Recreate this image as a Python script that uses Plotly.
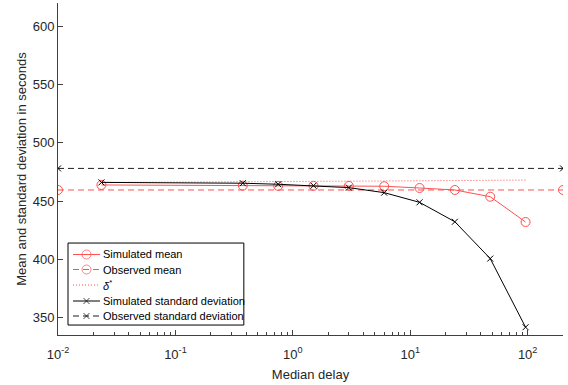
import plotly.graph_objects as go

delay = [0.0234375, 0.375, 0.75, 1.5, 3, 6, 12, 24, 48, 96]
sim_mean = [463.8, 463.2, 463.0, 463.0, 463.0, 462.7, 461.2, 459.5, 453.7, 432.0]
sim_std = [466.0, 465.3, 464.4, 463.2, 461.5, 457.2, 448.9, 432.2, 400.6, 341.7]
delta_star = [466.0, 466.3, 466.5, 466.7, 467.0, 467.2, 467.4, 467.6, 467.8, 468.0]
obs_x = [0.01, 200]
obs_mean = [459.5, 459.5]
obs_std = [478.0, 478.0]
x_ticks = [0.01, 0.1, 1, 10, 100]
x_ticktext = ["10<sup>-2</sup>", "10<sup>-1</sup>", "10<sup>0</sup>", "10<sup>1</sup>", "10<sup>2</sup>"]
y_ticks = [350, 400, 450, 500, 550, 600]

RED = "rgb(255,80,80)"
DASH = "6px,4px"
circ = dict(symbol="circle-open", size=9, color=RED, line=dict(width=1, color=RED))
xmk = dict(symbol="x-thin", size=6, color="black", line=dict(width=1, color="black"))

series = [
    dict(name="Simulated mean", x=delay, y=sim_mean, line=dict(color=RED, width=1), marker=circ),
    dict(name="Observed mean", x=obs_x, y=obs_mean, line=dict(color=RED, width=1, dash=DASH), marker=circ),
    dict(name="<i>δ</i><sup>*</sup>", x=delay, y=delta_star, line=dict(color=RED, width=1, dash="1px,2px"), marker=None),
    dict(name="Simulated standard deviation", x=delay, y=sim_std, line=dict(color="black", width=1), marker=xmk),
    dict(name="Observed standard deviation", x=obs_x, y=obs_std, line=dict(color="rgb(30,30,30)", width=1, dash=DASH), marker=xmk),
]

fig = go.Figure()
for s in series:
    fig.add_trace(go.Scatter(x=s["x"], y=s["y"], name=s["name"],
                             mode="lines+markers" if s["marker"] else "lines",
                             line=s["line"], marker=s["marker"], showlegend=False))

# custom legend (in plot-fraction coordinates on an overlay axis pair)
box = dict(x0=0.0198, x1=0.368, y0=0.030, y1=0.277)
fig.add_trace(go.Scatter(x=[box["x0"], box["x1"], box["x1"], box["x0"], box["x0"]],
                         y=[box["y0"], box["y0"], box["y1"], box["y1"], box["y0"]],
                         xaxis="x2", yaxis="y2", mode="lines", fill="toself",
                         fillcolor="white", line=dict(color="black", width=1),
                         showlegend=False, hoverinfo="skip"))
item_y = [0.2425, 0.1973, 0.1506, 0.1024, 0.0572]
lx0, lxm, lx1 = 0.0297, 0.0564, 0.0832
for s, yy in zip(series, item_y):
    mk = None
    if s["marker"]:
        mk = dict(s["marker"])
        mk["size"] = [0, s["marker"]["size"], 0]
    fig.add_trace(go.Scatter(x=[lx0, lxm, lx1], y=[yy, yy, yy], xaxis="x2", yaxis="y2",
                             mode="lines+markers" if mk else "lines",
                             line=s["line"], marker=mk, showlegend=False, hoverinfo="skip"))
    fig.add_annotation(x=0.0851, y=yy, xref="x2", yref="y2", text=s["name"],
                       showarrow=False, xanchor="left", yanchor="middle",
                       font=dict(size=11, color="black"))

axis_col = "rgb(64,64,64)"
fig.update_layout(
    width=568, height=385,
    margin=dict(l=58, r=5, t=3, b=50),
    paper_bgcolor="white", plot_bgcolor="white",
    font=dict(family="Liberation Sans, Arial, sans-serif", size=13, color="rgb(38,38,38)"),
    showlegend=False,
    xaxis2=dict(overlaying="x", range=[0, 1], visible=False, fixedrange=True),
    yaxis2=dict(overlaying="y", range=[0, 1], visible=False, fixedrange=True),
    xaxis=dict(
        type="log", range=[-2, 2.30103],
        tickvals=x_ticks, ticktext=x_ticktext, tickfont=dict(size=13),
        ticks="inside", ticklen=5, tickcolor=axis_col, ticklabelstandoff=7,
        minor=dict(ticks="inside", ticklen=3, tickcolor=axis_col, dtick="D1", showgrid=False),
        showline=True, linecolor=axis_col, linewidth=1, mirror=False,
        showgrid=False, zeroline=False,
        title=dict(text="Median delay", standoff=9, font=dict(size=13))),
    yaxis=dict(
        range=[335, 620], tickvals=y_ticks, tickfont=dict(size=13),
        ticks="inside", ticklen=5, tickcolor=axis_col,
        showline=True, linecolor=axis_col, linewidth=1, mirror=False,
        showgrid=False, zeroline=False,
        title=dict(text="Mean and standard deviation in seconds", standoff=3, font=dict(size=13))),
)

fig.write_html("out.html")
